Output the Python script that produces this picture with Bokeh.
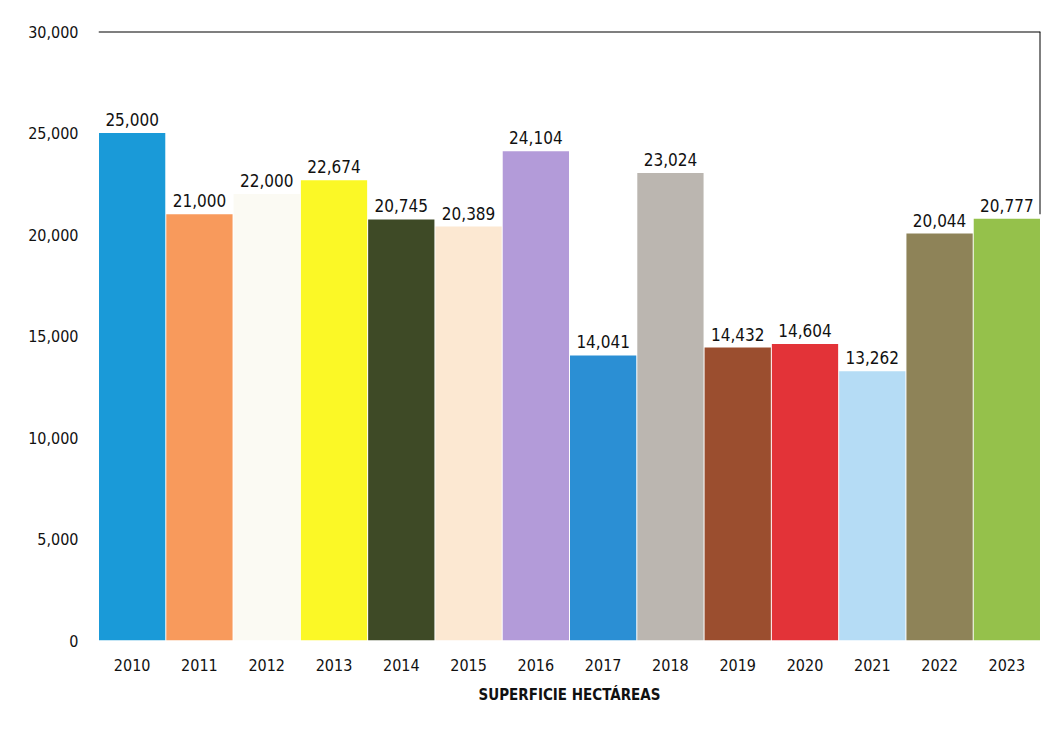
from bokeh.plotting import figure
from bokeh.models import ColumnDataSource, FixedTicker, NumeralTickFormatter, Span, Range1d
from bokeh.embed import file_html
from bokeh.resources import INLINE
from bokeh.core.properties import value

years = ["2010", "2011", "2012", "2013", "2014", "2015", "2016",
         "2017", "2018", "2019", "2020", "2021", "2022", "2023"]
hectares = [25000, 21000, 22000, 22674, 20745, 20389, 24104,
            14041, 23024, 14432, 14604, 13262, 20044, 20777]
colors = ["#1a9ad8", "#f89a5c", "#fbfaf3", "#fbf826", "#3e4a26", "#fce8d2", "#b39bd9",
          "#2b8fd4", "#bbb6b0", "#9b4e2f", "#e33338", "#b5dcf5", "#8e8358", "#95c14b"]
y_ticks = [0, 5000, 10000, 15000, 20000, 25000, 30000]
x_title = "SUPERFICIE HECTÁREAS"

FONT = "Liberation Sans Narrow, DejaVu Sans Condensed, sans-serif"

xpos = [i + 0.5 for i in range(len(years))]
labels = [f"{v:,}" for v in hectares]
src = ColumnDataSource(dict(x=xpos, top=hectares, color=colors, label=labels))

p = figure(width=1048, height=710, output_backend="svg", toolbar_location=None,
           x_range=Range1d(0, len(years)), y_range=Range1d(0, 30000),
           min_border_left=98, min_border_top=31, min_border_right=8, min_border_bottom=70)
p.outline_line_color = None
p.xgrid.visible = False
p.ygrid.visible = False

p.vbar(x="x", top="top", width=0.985, bottom=0, fill_color="color", line_color=None, source=src)
p.text(x="x", y="top", text="label", source=src, text_align="center", text_baseline="bottom",
       y_offset=-7, text_font=value(FONT), text_font_size="17px", text_color="#111111")

p.add_layout(Span(location=30000, dimension="width", line_color="black", line_width=2))
p.segment(x0=[len(years)], y0=[30000], x1=[len(years)], y1=[21000], line_color="black", line_width=2)

p.yaxis.ticker = FixedTicker(ticks=y_ticks)
p.yaxis.formatter = NumeralTickFormatter(format="0,0")
p.yaxis.axis_line_color = None
p.yaxis.major_tick_line_color = None
p.yaxis.minor_tick_line_color = None
p.yaxis.major_label_text_font = FONT
p.yaxis.major_label_text_font_size = "16px"
p.yaxis.major_label_text_color = "#111111"
p.yaxis.major_label_standoff = 14

p.xaxis.ticker = FixedTicker(ticks=xpos)
p.xaxis.major_label_overrides = {x: y for x, y in zip(xpos, years)}
p.xaxis.axis_line_color = None
p.xaxis.major_tick_line_color = None
p.xaxis.minor_tick_line_color = None
p.xaxis.major_label_text_font = FONT
p.xaxis.major_label_text_font_size = "16px"
p.xaxis.major_label_text_color = "#111111"
p.xaxis.major_label_standoff = 12
p.xaxis.axis_label = x_title
p.xaxis.axis_label_text_font = FONT
p.xaxis.axis_label_text_font_style = "bold"
p.xaxis.axis_label_text_font_size = "15px"
p.xaxis.axis_label_text_color = "#111111"
p.xaxis.axis_label_standoff = 12

open("out.html", "w").write(file_html(p, INLINE))
